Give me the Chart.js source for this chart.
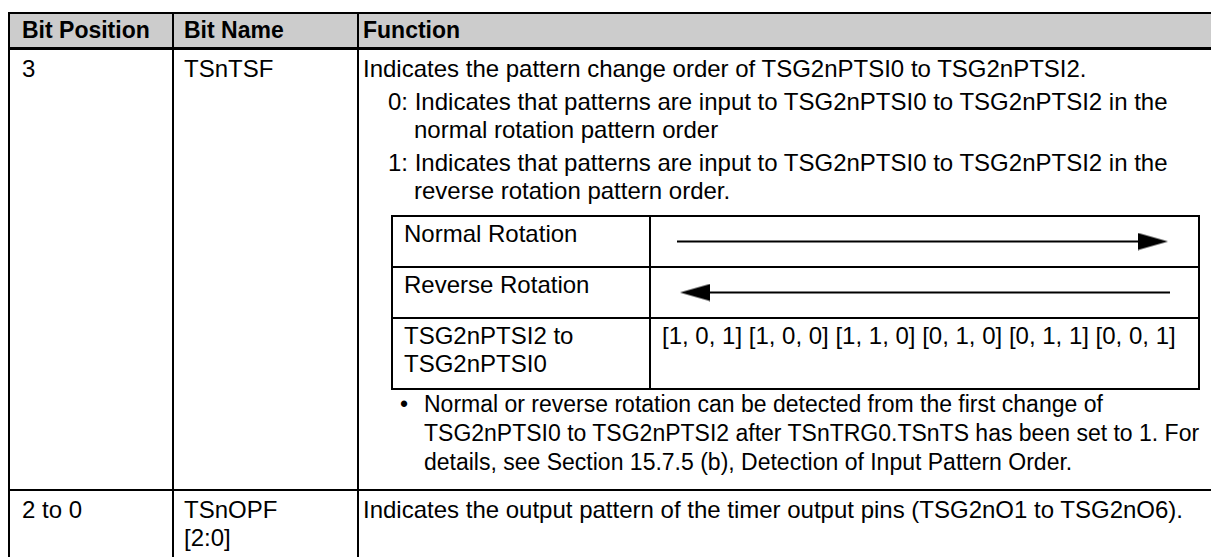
<!DOCTYPE html>
<html>
<head>
<meta charset="utf-8">
<script src="https://cdn.jsdelivr.net/npm/chart.js@4"></script>
<style>
  html, body { margin: 0; background: #fff; }
  body {
    width: 1211px; height: 557px; overflow: hidden; position: relative;
    font-family: "Liberation Sans", Arial, sans-serif;
    font-size: 24px; line-height: 28px; color: #000;
  }
  table { border-collapse: collapse; table-layout: fixed; }
  #regTable { position: absolute; left: 8px; top: 12px; width: 1216px; }
  #regTable > thead > tr > th,
  #regTable > tbody > tr > td {
    border: 2px solid #000; vertical-align: top; text-align: left; padding: 0;
    white-space: nowrap;
  }
  #regTable > thead > tr > th {
    background: #ccc; height: 33px; font-size: 23px; font-weight: bold; vertical-align: middle;
    border-bottom-width: 3px; line-height: 27px;
  }
  .c1 { padding-left: 12px !important; }
  .c2 { padding-left: 10px !important; }
  .c3 { padding-left: 4px !important; padding-right: 0 !important; }
  #row1 > td { height: 434px; padding-top: 5px !important; }
  #row2 > td { height: 70px; padding-top: 5px !important; }
  .opt { padding-left: 51px; text-indent: -26px; margin-top: 5px; }
  .inner { margin: 10px 0 0 28px; width: 807px; }
  .inner td { border: 2px solid #000; vertical-align: top; padding: 3px 0 0 11px; }
  .inner td.arrow { padding: 0; vertical-align: middle; }
  .inner canvas { display: block; width: 547px; height: 47px; }
  .bullet { position: relative; padding-left: 61px; font-size: 23px; line-height: 29px; }
  .bullet::before { content: "\2022"; position: absolute; left: 37px; top: 0; }
</style>
</head>
<body>
<table id="regTable">
  <colgroup><col style="width:164px"><col style="width:185px"><col></colgroup>
  <thead><tr id="headRow"></tr></thead>
  <tbody>
    <tr id="row1"><td class="c1"></td><td class="c2"></td><td class="c3" id="fn1"></td></tr>
    <tr id="row2"><td class="c1"></td><td class="c2"></td><td class="c3" id="fn2"></td></tr>
  </tbody>
</table>
<script>
const headers = ["Bit Position", "Bit Name", "Function"];
const bitPositions = ["3", "2 to 0"];
const bitNames = [["TSnTSF"], ["TSnOPF", "[2:0]"]];
const tsfIntro = "Indicates the pattern change order of TSG2nPTSI0 to TSG2nPTSI2.";
const tsfOptions = [
  ["0: Indicates that patterns are input to TSG2nPTSI0 to TSG2nPTSI2 in the", "normal rotation pattern order"],
  ["1: Indicates that patterns are input to TSG2nPTSI0 to TSG2nPTSI2 in the", "reverse rotation pattern order."],
];
const rotationLabels = ["Normal Rotation", "Reverse Rotation"];
// arrow runs from 0 to 1, head sits at the end given here
const arrowHeads = [1, 0];
const patternLabel = ["TSG2nPTSI2 to", "TSG2nPTSI0"];
const patterns = [[1, 0, 1], [1, 0, 0], [1, 1, 0], [0, 1, 0], [0, 1, 1], [0, 0, 1]];
const tsfNote = [
  "Normal or reverse rotation can be detected from the first change of",
  "TSG2nPTSI0 to TSG2nPTSI2 after TSnTRG0.TSnTS has been set to 1. For",
  "details, see Section 15.7.5 (b), Detection of Input Pattern Order.",
];
const opfFunction = "Indicates the output pattern of the timer output pins (TSG2nO1 to TSG2nO6).";

document.getElementById("headRow").innerHTML = headers
  .map((h, i) => `<th class="c${i + 1}">${h}</th>`)
  .join("");

["row1", "row2"].forEach((id, i) => {
  const cells = document.querySelectorAll(`#${id} > td`);
  cells[0].textContent = bitPositions[i];
  cells[1].innerHTML = bitNames[i].join("<br>");
});

const fn1 = document.getElementById("fn1");
fn1.innerHTML = `
  <div>${tsfIntro}</div>
  ${tsfOptions.map((o) => `<div class="opt">${o.join("<br>")}</div>`).join("")}
  <table class="inner">
    <colgroup><col style="width:258px"><col style="width:549px"></colgroup>
    ${rotationLabels
      .map((l, i) => `<tr style="height:51px"><td>${l}</td><td class="arrow"><canvas id="arrow${i}" width="547" height="47"></canvas></td></tr>`)
      .join("")}
    <tr style="height:71px"><td>${patternLabel.join("<br>")}</td>
      <td>${patterns.map((p) => `[${p.join(", ")}]`).join(" ")}</td></tr>
  </table>
  <div class="bullet">${tsfNote.join("<br>")}</div>`;
document.getElementById("fn2").textContent = opfFunction;

// long arrowhead, base at the image centre, tip to the right
function makeHead() {
  const c = document.createElement("canvas");
  c.width = 60;
  c.height = 18;
  const g = c.getContext("2d");
  g.fillStyle = "#000";
  g.beginPath();
  g.moveTo(30, 0.5);
  g.lineTo(60, 9);
  g.lineTo(30, 17.5);
  g.closePath();
  g.fill();
  return c;
}
const head = makeHead();

arrowHeads.forEach((end, i) => {
  const pts = [{ x: 0, y: 0 }, { x: 1, y: 0 }];
  new Chart(document.getElementById("arrow" + i), {
    type: "scatter",
    data: {
      datasets: [{
        data: pts,
        showLine: true,
        borderColor: "#000",
        borderWidth: 2,
        clip: false,
        pointRadius: pts.map((p) => (p.x === end ? 5 : 0)),
        pointStyle: head,
        pointRotation: end === 1 ? 0 : 180,
      }],
    },
    options: {
      responsive: false,
      maintainAspectRatio: false,
      animation: false,
      devicePixelRatio: 1,
      layout: { padding: end === 1 ? { left: 26, right: 60, top: 0, bottom: 0 } : { left: 59, right: 28, top: 0, bottom: 0 } },
      plugins: { legend: { display: false }, tooltip: { enabled: false } },
      scales: {
        x: { type: "linear", min: 0, max: 1, display: false },
        y: { min: -1, max: 1, display: false },
      },
    },
  });
});
</script>
</body>
</html>
